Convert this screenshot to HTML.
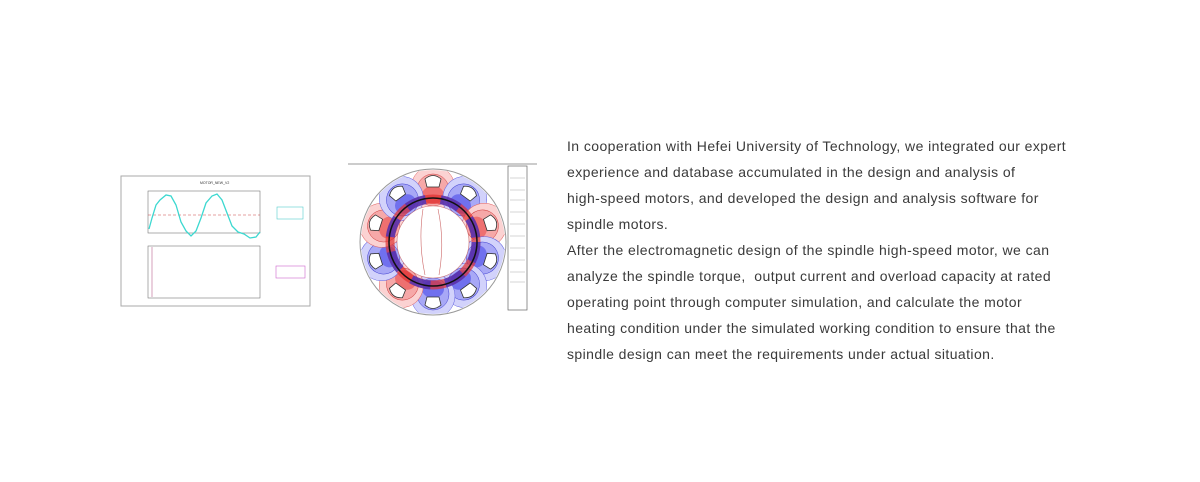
<!DOCTYPE html>
<html><head><meta charset="utf-8"><style>
body{margin:0;width:1200px;height:482px;background:#fff;position:relative;overflow:hidden;font-family:"Liberation Sans",sans-serif}
.t{position:absolute;left:567px;top:133px;width:560px;font-size:14px;letter-spacing:0.42px;line-height:26px;color:#3a3a3a;white-space:nowrap}
</style></head><body>
<svg style="position:absolute;left:0;top:0" width="1200" height="482">
<defs>
<clipPath id="cc"><circle cx="0" cy="0" r="72"/></clipPath>
<g id="lr"><ellipse cx="0" cy="-54" rx="22" ry="22" fill="#fbd2d2" stroke="#e06060" stroke-width="0.5"/><ellipse cx="0" cy="-52" rx="16" ry="16" fill="#f6a8a8" stroke="#d04040" stroke-width="0.5"/><ellipse cx="0" cy="-47" rx="11" ry="9" fill="#ee7070"/></g>
<g id="lb"><ellipse cx="0" cy="-54" rx="22" ry="22" fill="#d2d2fb" stroke="#6060e0" stroke-width="0.5"/><ellipse cx="0" cy="-52" rx="16" ry="16" fill="#a8a8f6" stroke="#4040d0" stroke-width="0.5"/><ellipse cx="0" cy="-47" rx="11" ry="9" fill="#7070ee"/></g>
<g id="sl"><path d="M-6,-55 L6,-55 L8,-63 Q0,-70 -8,-63 Z" fill="#fff" stroke="#333" stroke-width="0.8"/></g>
</defs>
<!-- chart -->
<rect x="121" y="176" width="189" height="130" fill="#fff" stroke="#aaa"/>
<text x="200" y="184" font-size="3.5" fill="#333">MOTOR_NEW_V2</text>
<rect x="148" y="191" width="112" height="42" fill="none" stroke="#777" stroke-width="0.6"/>
<line x1="148" y1="215" x2="260" y2="215" stroke="#c44" stroke-dasharray="3,2" stroke-width="0.6"/>
<path d="M149,229 L152,218 L156,205 L160,200 L166,195 L171,196 L176,205 L181,222 L186,231 L191,236 L196,231 L201,218 L206,203 L212,196 L217,194 L222,200 L227,213 L232,226 L238,232 L244,234 L250,238 L256,237 L260,232" fill="none" stroke="#3cd8d0" stroke-width="1.3"/>
<rect x="148" y="246" width="112" height="52" fill="none" stroke="#777" stroke-width="0.6"/>
<line x1="152" y1="247" x2="152" y2="297" stroke="#c8a" stroke-width="0.8"/>
<rect x="277" y="207" width="26" height="12" fill="#fff" stroke="#5cc" stroke-width="0.6"/>
<rect x="276" y="266" width="29" height="12" fill="#fff" stroke="#c6c" stroke-width="0.6"/>
<!-- motor -->
<line x1="348" y1="164" x2="537" y2="164" stroke="#999" stroke-width="1"/>
<g transform="translate(433,242)">
<circle r="73" fill="#fff" stroke="#999"/>
<g clip-path="url(#cc)">
<use href="#lr" transform="rotate(0)"/><use href="#lb" transform="rotate(36)"/><use href="#lr" transform="rotate(72)"/><use href="#lb" transform="rotate(108)"/><use href="#lb" transform="rotate(144)"/><use href="#lb" transform="rotate(180)"/><use href="#lr" transform="rotate(216)"/><use href="#lb" transform="rotate(252)"/><use href="#lr" transform="rotate(288)"/><use href="#lb" transform="rotate(324)"/>
</g>
<circle r="43" fill="none" stroke="#e03030" stroke-width="9" opacity="0.7"/>
<circle r="43" fill="none" stroke="#3030d0" stroke-width="9" stroke-dasharray="20,15" opacity="0.7"/>
<circle r="44" fill="none" stroke="#111" stroke-width="1.5"/>
<circle r="36" fill="#fff" stroke="#c77" stroke-width="0.6"/>
<path d="M-10,-33 Q-15,0 -8,33 M5,-33 Q12,0 6,33" fill="none" stroke="#c66" stroke-width="0.6"/>
<use href="#sl" transform="rotate(0)"/><use href="#sl" transform="rotate(36)"/><use href="#sl" transform="rotate(72)"/><use href="#sl" transform="rotate(108)"/><use href="#sl" transform="rotate(144)"/><use href="#sl" transform="rotate(180)"/><use href="#sl" transform="rotate(216)"/><use href="#sl" transform="rotate(252)"/><use href="#sl" transform="rotate(288)"/><use href="#sl" transform="rotate(324)"/>
</g>
<rect x="508" y="166" width="19" height="144" fill="#fff" stroke="#666" stroke-width="0.7"/>
<g stroke="#aaa" stroke-width="0.5"><line x1="510" y1="178" x2="525" y2="178"/><line x1="510" y1="190" x2="525" y2="190"/><line x1="510" y1="200" x2="525" y2="200"/><line x1="510" y1="212" x2="525" y2="212"/><line x1="510" y1="224" x2="525" y2="224"/><line x1="510" y1="236" x2="525" y2="236"/><line x1="510" y1="248" x2="525" y2="248"/><line x1="510" y1="260" x2="525" y2="260"/><line x1="510" y1="272" x2="525" y2="272"/><line x1="510" y1="282" x2="525" y2="282"/></g>
</svg>
<div class="t">In cooperation with Hefei University of Technology, we integrated our expert<br>experience and database accumulated in the design and analysis of<br>high-speed motors, and developed the design and analysis software for<br>spindle motors.<br>After the electromagnetic design of the spindle high-speed motor, we can<br>analyze the spindle torque,&nbsp; output current and overload capacity at rated<br>operating point through computer simulation, and calculate the motor<br>heating condition under the simulated working condition to ensure that the<br>spindle design can meet the requirements under actual situation.</div>
</body></html>
